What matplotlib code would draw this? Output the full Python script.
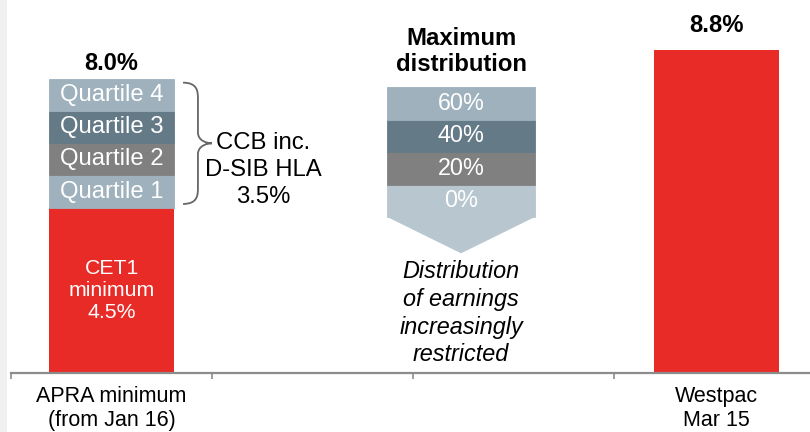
import matplotlib
matplotlib.use("Agg")
import matplotlib.pyplot as plt
from matplotlib.patches import Polygon, PathPatch, Rectangle
from matplotlib.path import Path

plt.rcParams["font.family"] = ["Liberation Sans", "DejaVu Sans"]

# capital stack (%)
cet1_min = 4.5
ccb_total = 3.5
quartile_names = ["Quartile 1", "Quartile 2", "Quartile 3", "Quartile 4"]
quartile_values = [ccb_total / 4] * 4
westpac_cet1 = 8.8

categories = ["APRA minimum\n(from Jan 16)", "", "", "Westpac\nMar 15"]
payout_labels = ["0%", "20%", "40%", "60%"]

RED = "#e92b27"
quartile_colors = ["#9eb1bd", "#808080", "#657a87", "#9eb1bd"]
payout_colors = ["#b8c6cf", "#808080", "#657a87", "#9eb1bd"]
AXIS_GREY = "#8c8c8c"

fig = plt.figure(figsize=(8.1, 4.32), dpi=100)
fig.patches.append(Rectangle((0, 0), 7 / 810, 1, transform=fig.transFigure,
                             facecolor="#f0f0f0", edgecolor="none", zorder=0))

ax = fig.add_axes([11 / 810, 59 / 432, 804 / 810, 373 / 432])
ax.set_xlim(-0.5, 3.5)
ax.set_ylim(0, 373 / 36.75)
ax.patch.set_alpha(0)

bar_w = 0.62

# APRA minimum: CET1 base plus the four buffer quartiles
ax.bar(0, cet1_min, width=bar_w, color=RED, zorder=2)
ax.text(0, cet1_min / 2, f"CET1\nminimum\n{cet1_min}%", ha="center", va="center",
        color="white", fontsize=15.3, linespacing=1.22, zorder=3)
bottom = cet1_min
for name, val, col in zip(quartile_names, quartile_values, quartile_colors):
    ax.bar(0, val, bottom=bottom, width=bar_w, color=col, edgecolor=col,
           linewidth=0.6, zorder=2)
    ax.text(0, bottom + val / 2, name, ha="center", va="center",
            color="white", fontsize=17.2, zorder=3)
    bottom += val
apra_total = bottom
ax.annotate(f"{apra_total:.1f}%", (0, apra_total), xytext=(0, 2.8),
            textcoords="offset points", ha="center", va="bottom",
            fontsize=17, fontweight="bold")

# curly brace around the buffer
y0, y1 = cet1_min + 0.1, apra_total - 0.1
ym = (y0 + y1) / 2
xl, xv, xt = 0.356, 0.43, 0.50
verts = [(xl, y1), (xv, y1), (xv, y1 - 0.25), (xv, y1 - 0.45),
         (xv, ym + 0.3),
         (xv, ym + 0.05), (xt - 0.02, ym), (xt, ym),
         (xt - 0.02, ym), (xv, ym - 0.05), (xv, ym - 0.3),
         (xv, y0 + 0.45),
         (xv, y0 + 0.25), (xv, y0), (xl, y0)]
codes = [Path.MOVETO, Path.CURVE4, Path.CURVE4, Path.CURVE4,
         Path.LINETO,
         Path.CURVE4, Path.CURVE4, Path.CURVE4,
         Path.CURVE4, Path.CURVE4, Path.CURVE4,
         Path.LINETO,
         Path.CURVE4, Path.CURVE4, Path.CURVE4]
ax.add_patch(PathPatch(Path(verts, codes), facecolor="none",
                       edgecolor="#666666", lw=1.3, zorder=3))
ax.text(0.754, ym - 0.72, f"CCB inc.\nD-SIB HLA\n{ccb_total}%", ha="center",
        va="center", fontsize=17.2, linespacing=1.3)

# maximum distribution chevron
cx, cw, band_h = 1.739, 0.736, 0.885
band_bottom = 4.24
for i, (lab, col) in enumerate(zip(payout_labels, payout_colors)):
    b = band_bottom + i * band_h
    ax.bar(cx, band_h, bottom=b, width=cw, color=col, edgecolor=col,
           linewidth=0.6, zorder=2)
    ax.text(cx, b + band_h / 2, lab, ha="center", va="center",
            color="white", fontsize=16.8, zorder=3)
ax.add_patch(Polygon([(cx - cw / 2, band_bottom + 0.02), (cx + cw / 2, band_bottom + 0.02),
                      (cx, band_bottom - 0.97)], closed=True,
                     facecolor=payout_colors[0], edgecolor=payout_colors[0],
                     linewidth=0.6, zorder=2))
ax.text(cx, band_bottom + 4 * band_h + 0.97, "Maximum\ndistribution",
        ha="center", va="center", fontsize=17.2, fontweight="bold", linespacing=1.2)
ax.text(cx, 1.62, "Distribution\nof earnings\nincreasingly\nrestricted",
        ha="center", va="center", fontsize=16.8, fontstyle="italic",
        linespacing=1.26)

# Westpac
ax.bar(3.01, westpac_cet1, width=bar_w, color=RED, zorder=2)
ax.annotate(f"{westpac_cet1}%", (3.01, westpac_cet1), xytext=(0, 9),
            textcoords="offset points", ha="center", va="bottom",
            fontsize=17.2, fontweight="bold")

# axis: group separators as ticks, category names as minor labels
for s in ["top", "left", "right"]:
    ax.spines[s].set_visible(False)
ax.spines["bottom"].set_color(AXIS_GREY)
ax.spines["bottom"].set_linewidth(1.6)
ax.set_yticks([])
ax.set_xticks([-0.5, 0.5, 1.5, 2.5])
ax.set_xticklabels([])
ax.tick_params(axis="x", which="major", direction="out", length=4,
               width=1.2, color=AXIS_GREY)
ax.set_xticks([0, 1, 2, 3.01], minor=True)
ax.set_xticklabels(categories, minor=True, fontsize=15.5, linespacing=1.15)
ax.tick_params(axis="x", which="minor", length=0, pad=9.5)

fig.savefig("out.png", dpi=100)
